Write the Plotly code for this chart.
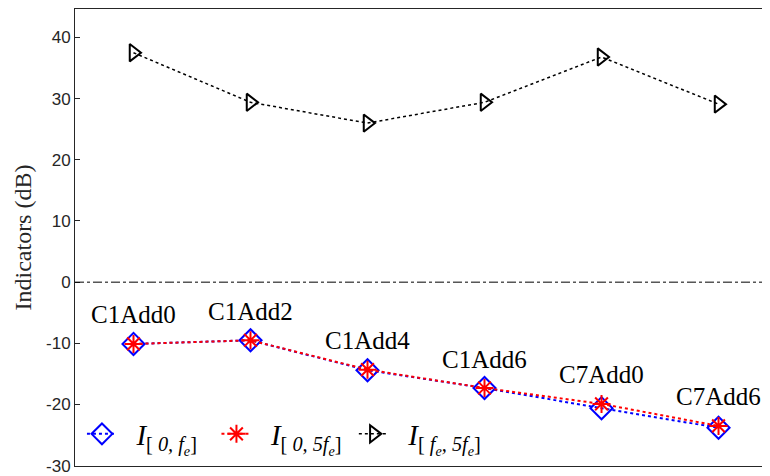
import plotly.graph_objects as go

# Daten
configs = ['C1Add0', 'C1Add2', 'C1Add4', 'C1Add6', 'C7Add0', 'C7Add6']
x_pos = [1, 2, 3, 4, 5, 6]
i_0_fe = [-10.1, -9.5, -14.4, -17.3, -20.6, -23.8]
i_0_5fe = [-10.1, -9.5, -14.3, -17.3, -19.9, -23.5]
i_fe_5fe = [37.5, 29.4, 26.0, 29.4, 36.8, 29.1]
y_ticks = [-30, -20, -10, 0, 10, 20, 30, 40]
y_ticktext = ['-30', '-20', '-10', '0', '10', '20', '30', '40']

serif = '"Liberation Serif", "Times New Roman", serif'
sans = '"Liberation Sans", Arial, sans-serif'
axis_col = 'rgb(38,38,38)'

# Seite hat 8px Body-Rand -> Figur etwas kleiner
W, H = 762, 468
ML, MT, MB, MR = 67, 0, 7, 0
plot_w = W - ML - MR

sp = '&nbsp;&nbsp;'

fig = go.Figure()

fig.add_trace(go.Scatter(
    x=x_pos, y=i_0_fe, mode='lines+markers',
    name=sp + '<i>I</i><sub>[ <i>0, f</i><sub><i>e</i></sub>]</sub>' + sp,
    line=dict(color='blue', dash='dot', width=2),
    marker=dict(symbol='diamond-open', size=17, color='blue', line=dict(width=2, color='blue'))
))
fig.add_trace(go.Scatter(
    x=x_pos, y=i_0_5fe, mode='lines+markers',
    name=sp + '<i>I</i><sub>[ <i>0, 5f</i><sub><i>e</i></sub>]</sub>&nbsp;',
    line=dict(color='red', dash='dot', width=2),
    marker=dict(symbol='asterisk-open', size=15, color='red', line=dict(width=2, color='red'))
))
fig.add_trace(go.Scatter(
    x=x_pos, y=i_fe_5fe, mode='lines+markers',
    name=sp + '<i>I</i><sub>[ <i>f</i><sub><i>e</i></sub><i>, 5f</i><sub><i>e</i></sub>]</sub>',
    line=dict(color='black', dash='dot', width=1.5),
    marker=dict(symbol='triangle-right-open', size=15, color='black', line=dict(width=2, color='black'))
))

# Beschriftungen ueber den Punkten
for xv, yv, lab in zip(x_pos, i_0_5fe, configs):
    fig.add_annotation(x=xv, y=yv, text=lab, showarrow=False, yshift=29,
                       font=dict(family=serif, size=25, color='black'))

# gestrichelte Nulllinie
fig.add_shape(type='line', xref='paper', yref='y', x0=0, x1=1, y0=0, y1=0,
              line=dict(color='black', width=1, dash='dashdot'))

# y-Achsentitel
fig.add_annotation(text='Indicators (dB)', xref='paper', yref='paper',
                   x=-53 / plot_w, y=0.5, textangle=-90, showarrow=False,
                   xanchor='center', yanchor='middle',
                   font=dict(family=serif, size=24, color=axis_col))

fig.update_layout(
    width=W, height=H,
    margin=dict(l=ML, r=MR, t=MT, b=MB),
    paper_bgcolor='white', plot_bgcolor='white',
    showlegend=True,
    legend=dict(orientation='h', x=0.01, y=0.07, xanchor='left', yanchor='middle',
                font=dict(family=serif, size=29, color='black'),
                bgcolor='rgba(255,255,255,0)', itemwidth=30, tracegroupgap=0),
    xaxis=dict(range=[0.5, 6.44], showticklabels=False, ticks='', showgrid=False,
               zeroline=False, showline=True, linecolor=axis_col, linewidth=1, mirror=True),
    yaxis=dict(range=[-30.05, 44.65], tickvals=y_ticks, ticktext=y_ticktext,
               ticks='inside', ticklen=5, ticklabeloverflow='allow',
               tickcolor=axis_col, showgrid=False, zeroline=False, showline=True,
               linecolor=axis_col, linewidth=1,
               tickfont=dict(family=sans, size=17, color=axis_col)),
)

fig.write_html("out.html")
